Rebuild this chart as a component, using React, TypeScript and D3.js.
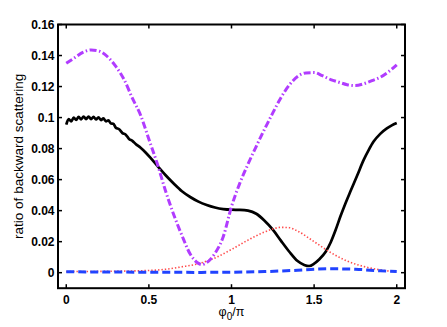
import React from "react"
import * as d3 from "d3"

// ── Data (phi0/pi, ratio) ─────────────────────────────────────────────────────

const BLACK_X = [0, 0.015, 0.03, 0.045, 0.06, 0.075, 0.09, 0.105, 0.12, 0.135, 0.15, 0.165, 0.18, 0.195, 0.21, 0.225, 0.24, 0.255, 0.27, 0.285, 0.3, 0.32, 0.34, 0.36, 0.38, 0.4, 0.42, 0.45, 0.48, 0.51, 0.55, 0.6, 0.65, 0.7, 0.75, 0.8, 0.85, 0.9, 0.95, 1.0, 1.05, 1.1, 1.15, 1.2, 1.25, 1.3, 1.35, 1.4, 1.44, 1.47, 1.5, 1.53, 1.57, 1.6, 1.63, 1.66, 1.69, 1.72, 1.76, 1.8, 1.83, 1.86, 1.9, 1.94, 1.97, 2.0]
const BLACK_Y = [0.0955, 0.099, 0.0975, 0.1, 0.0985, 0.1005, 0.0988, 0.1007, 0.099, 0.1007, 0.099, 0.1005, 0.0988, 0.1002, 0.0984, 0.0995, 0.0976, 0.0982, 0.0962, 0.096, 0.0935, 0.0925, 0.09, 0.089, 0.0862, 0.085, 0.083, 0.0805, 0.0775, 0.074, 0.069, 0.063, 0.0575, 0.0525, 0.0488, 0.0458, 0.0436, 0.042, 0.041, 0.0406, 0.0405, 0.04, 0.038, 0.0335, 0.0278, 0.0205, 0.0135, 0.0075, 0.005, 0.0043, 0.0058, 0.0085, 0.0135, 0.0195, 0.0275, 0.0365, 0.0448, 0.0525, 0.0625, 0.0727, 0.079, 0.0845, 0.0895, 0.093, 0.095, 0.0965]

const PURPLE_X = [0, 0.05, 0.1, 0.15, 0.2, 0.25, 0.3, 0.35, 0.4, 0.45, 0.5, 0.55, 0.6, 0.65, 0.7, 0.75, 0.8, 0.82, 0.85, 0.9, 0.95, 1.0, 1.05, 1.1, 1.15, 1.2, 1.25, 1.3, 1.35, 1.4, 1.45, 1.5, 1.55, 1.6, 1.65, 1.7, 1.75, 1.8, 1.85, 1.9, 1.95, 2.0]
const PURPLE_Y = [0.135, 0.1385, 0.142, 0.1436, 0.1428, 0.1392, 0.133, 0.1245, 0.1125, 0.1015, 0.086, 0.0705, 0.053, 0.0375, 0.024, 0.012, 0.006, 0.0052, 0.0065, 0.0125, 0.0232, 0.0426, 0.0576, 0.07, 0.0815, 0.0925, 0.103, 0.113, 0.121, 0.1265, 0.1288, 0.129, 0.127, 0.1245, 0.1228, 0.1212, 0.1206, 0.1218, 0.1238, 0.126, 0.1295, 0.134]

const RED_X = [0, 0.25, 0.5, 0.6, 0.7, 0.8, 0.9, 1.0, 1.1, 1.2, 1.3, 1.35, 1.4, 1.5, 1.6, 1.7, 1.8, 1.9, 2.0]
const RED_Y = [0.0007, 0.0009, 0.0014, 0.0022, 0.0038, 0.0058, 0.0095, 0.015, 0.021, 0.0262, 0.0292, 0.029, 0.0268, 0.02, 0.013, 0.0075, 0.004, 0.0018, 0.0006]

const BLUE_X = [0, 0.5, 0.8, 1.0, 1.2, 1.4, 1.5, 1.6, 1.75, 1.9, 2.0]
const BLUE_Y = [0.0006, 0.0003, 0.0002, 0.0003, 0.0007, 0.0016, 0.0022, 0.0025, 0.0022, 0.0012, 0.0007]

const X_TICKS = [0, 0.5, 1, 1.5, 2]
const Y_TICKS = [0, 0.02, 0.04, 0.06, 0.08, 0.1, 0.12, 0.14, 0.16]

// ── Layout ────────────────────────────────────────────────────────────────────

const W = 447
const H = 327
const left = 58
const right = 405
const top = 24.5
const bottom = 288.2

const x = d3.scaleLinear().domain([-0.05, 2.05]).range([left, right])
const y = d3.scaleLinear().domain([-0.01, 0.16]).range([bottom, top])

const zip = (xs: number[], ys: number[]) => xs.map((v, i) => [v, ys[i]] as [number, number])

const line = d3
  .line<[number, number]>()
  .x(d => x(d[0]))
  .y(d => y(d[1]))
  .curve(d3.curveMonotoneX)

const tickFmt = (t: number) => (t === 0 ? "0" : String(+t.toFixed(2)))

export default function App() {
  const font = "'Liberation Sans', Arial, Helvetica, sans-serif"
  return (
    <svg
      width={W}
      height={H}
      style={{ position: "absolute", left: 0, top: 0, background: "#fff" }}
      fontFamily={font}
    >
      {/* curves */}
      <path d={line(zip(BLACK_X, BLACK_Y)) || ""} fill="none" stroke="#000" strokeWidth={2.7} strokeLinejoin="round" />
      <path d={line(zip(RED_X, RED_Y)) || ""} fill="none" stroke="#ff4a4a" strokeWidth={1.6} strokeDasharray="1.4 2" />
      <path d={line(zip(BLUE_X, BLUE_Y)) || ""} fill="none" stroke="#2143ff" strokeWidth={3} strokeDasharray="8 4" />
      <path d={line(zip(PURPLE_X, PURPLE_Y)) || ""} fill="none" stroke="#b13cff" strokeWidth={3} strokeDasharray="7 2.5 1.5 2.5" />

      {/* axes box */}
      <rect x={left} y={top} width={right - left} height={bottom - top} fill="none" stroke="#000" strokeWidth={2} />

      {/* x ticks */}
      {X_TICKS.map(t => (
        <g key={`x${t}`}>
          <line x1={x(t)} x2={x(t)} y1={bottom} y2={bottom - 4} stroke="#000" strokeWidth={1.5} />
          <line x1={x(t)} x2={x(t)} y1={top} y2={top + 4} stroke="#000" strokeWidth={1.5} />
          <text x={x(t)} y={bottom + 16} textAnchor="middle" fontSize={12} fontWeight="bold">
            {tickFmt(t)}
          </text>
        </g>
      ))}

      {/* y ticks */}
      {Y_TICKS.map(t => (
        <g key={`y${t}`}>
          <line x1={left} x2={left + 4} y1={y(t)} y2={y(t)} stroke="#000" strokeWidth={1.5} />
          <line x1={right} x2={right - 4} y1={y(t)} y2={y(t)} stroke="#000" strokeWidth={1.5} />
          <text x={left - 3.5} y={y(t)} dy="0.36em" textAnchor="end" fontSize={12} fontWeight="bold">
            {tickFmt(t)}
          </text>
        </g>
      ))}

      {/* axis labels */}
      <text
        transform={`translate(23,${(top + bottom) / 2}) rotate(-90)`}
        textAnchor="middle"
        fontSize={13.5}
      >
        ratio of backward scattering
      </text>
      <text x={x(1)} y={316} textAnchor="middle" fontSize={12.5}>
        φ<tspan dy={4} fontSize={10}>0</tspan>
        <tspan dy={-4}>/π</tspan>
      </text>
    </svg>
  )
}
